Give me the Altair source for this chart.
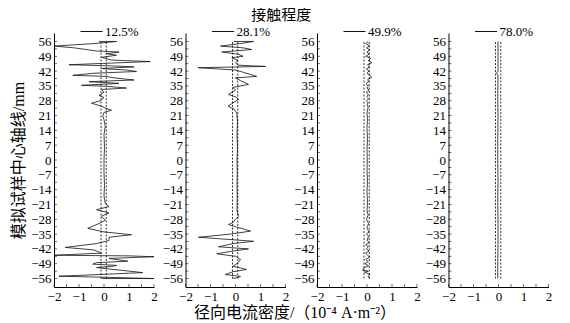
import altair as alt
import pandas as pd

panel_labels = ["12.5%", "28.1%", "49.9%", "78.0%"]

pos1 = [56.0, 56.0, 55.0, 53.8, 53.0, 51.5, 51.0, 50.2, 49.5, 48.5, 47.2, 46.5, 45.8, 45.0, 44.5, 44.0,
        43.2, 42.5, 41.8, 41.0, 40.0, 39.5, 38.8, 37.8, 37.0, 36.2, 35.3, 34.8, 34.0, 33.3, 32.0, 30.5,
        29.5, 28.0, 26.8, 25.5, 24.5, 23.5, 22.5, 21.0, 19.0, 16.0, 12.0, 6.0, 0.0, -6.0, -12.0, -17.0,
        -20.5, -22.0, -23.5, -25.0, -26.5, -28.5, -30.0, -31.0, -32.3, -34.0, -35.3, -36.5, -38.0, -39.5,
        -40.5, -41.3, -42.5, -44.0, -45.0, -45.3, -45.7, -46.5, -47.2, -47.8, -48.5, -49.2, -49.8, -50.3,
        -50.8, -51.5, -52.3, -53.2, -54.0, -54.9, -55.5, -56.0, -56.0]
den1 = [-0.2, 0.5, -0.4, -2.0, -1.2, -0.3, 0.6, 0.1, 0.5, -0.1, 0.3, 1.85, 0.3, -1.4, 0.2, 1.2,
        -0.1, 0.9, 1.3, -0.4, -1.25, 0.1, 0.4, 1.2, -0.6, 0.6, -0.9, 0.1, 0.9, -0.1, 0.0, -0.2,
        0.0, -0.15, -0.5, -0.1, 0.05, 0.3, 0.0, -0.05, 0.0, 0.05, 0.0, 0.02, 0.0, 0.0, 0.02, 0.0,
        0.05, 0.2, -0.3, 0.2, -0.1, 0.05, -0.2, -0.4, -0.65, 0.0, 1.1, 0.2, 0.2, -0.3,
        -1.0, -1.55, -0.4, -0.1, -2.0, 1.0, 2.0, 0.2, 0.6, 0.95, -0.3, -0.45, 0.5, 0.3,
        -0.3, 0.2, 0.85, 1.55, 0.0, -1.8, 0.4, 2.0, -0.1]

pos2 = [56.0, 56.0, 55.0, 53.8, 53.0, 52.2, 51.0, 50.0, 49.0, 48.3, 47.0, 46.0, 44.8, 44.2, 43.6, 42.5,
        41.5, 39.5, 38.8, 37.5, 35.7, 34.3, 33.0, 31.0, 29.5, 28.6, 27.0, 25.4, 24.0, 22.0, 18.0, 12.0,
        6.0, 0.0, -6.0, -12.0, -18.0, -24.0, -26.6, -28.0, -29.5, -30.5, -31.5, -33.6, -35.0, -36.5,
        -37.5, -38.4, -39.5, -41.0, -42.0, -43.0, -44.3, -45.5, -47.0, -48.5, -50.2, -51.0, -51.7,
        -52.8, -54.1, -55.0, -55.5, -56.0]
den2 = [-0.08, 0.72, 0.2, -0.6, 0.3, 0.65, -0.55, 0.1, 0.3, -0.15, 0.1, 0.0, 0.1, 1.2, -1.5, 0.0,
        0.3, 0.85, 0.0, 0.2, 0.52, -0.1, 0.0, -0.28, 0.05, 0.12, -0.1, -0.3, -0.05, 0.05, 0.08, 0.06,
        0.08, 0.06, 0.07, 0.06, 0.07, 0.06, 0.12, 0.0, -0.1, -0.28, 0.0, 0.6, -0.2, -1.48,
        -0.3, 0.72, -0.1, -0.68, 0.52, -0.1, -0.75, 0.0, 0.2, 0.1, -0.1, 0.2, 0.44,
        -0.1, -0.41, 0.2, 0.1, -0.1]

pos3 = [56, 55, 54, 53, 52, 51, 50, 49, 48, 47, 46, 45, 44, 43, 42, 41, 40, 39, 38, 37, 36, 35,
        34, 33, 32, 31, 30, 29, 28, 27, 26, 25, 24, 22, 20, 15, 10, 5, 0, -5, -10, -15, -20, -24,
        -26, -28, -30, -32, -34, -35, -36, -38, -39, -40, -41, -42, -43, -44, -45, -46, -47, -48,
        -49, -50, -51, -52, -52.5, -53, -54, -55, -56]
den3 = [0.05, -0.05, 0.1, -0.02, 0.12, 0.0, 0.08, -0.05, 0.15, 0.05, 0.2, 0.02, 0.1, -0.03, 0.08,
        0.0, 0.12, 0.18, 0.03, 0.06, -0.04, 0.05, 0.0, 0.08, -0.03, 0.05, 0.0, 0.06, -0.02, 0.04,
        0.0, 0.05, 0.02, 0.0, 0.02, 0.0, 0.02, 0.0, 0.01, 0.0, 0.02, 0.0, 0.02, 0.0,
        0.05, -0.02, 0.06, 0.0, 0.08, -0.03, 0.06, 0.0, 0.1, -0.05, 0.05, -0.02, 0.08, -0.06,
        0.03, 0.1, -0.05, 0.05, -0.08, 0.06, -0.12, -0.18, 0.05, -0.1, 0.12, 0.05, 0.1]

pos4 = [56, 50, 42, 41, 40, 30, 20, 10, 0, -10, -20, -30, -40, -50, -56]
den4 = [-0.02, -0.02, -0.02, -0.08, -0.02, -0.03, -0.02, -0.03, -0.03, -0.02, -0.03, -0.02,
        -0.02, -0.03, -0.03]

y_ticks = list(range(-56, 57, 7))
x_ticks = [-2, -1, 0, 1, 2]
minor_y = [i * 3.5 for i in range(-16, 17)]
minor_x = [-2, -1.5, -1, -0.5, 0, 0.5, 1, 1.5, 2]
bound_x = [-0.12, 0.09]
bound_y1 = [-56, -56]
bound_y2 = [56, 56]

SERIF = "Liberation Serif"
MIX = "Liberation Serif, Noto Sans CJK SC"
W, H = 100, 254
XTITLE = "径向电流密度/（10⁻⁴ A·m⁻²）"
YTITLE = "模拟试样中心轴线/mm"


def panel(i, pos, den, ytitle=False, xtitle=False):
    xs = alt.Scale(domain=[-2, 2], nice=False, zero=False)
    ys = alt.Scale(domain=[-60, 60], nice=False, zero=False)
    df = pd.DataFrame({"pos": pos, "den": den, "idx": list(range(len(pos))),
                       "label": [panel_labels[i]] * len(pos)})
    xaxis_kw = dict(values=x_ticks, ticks=False, labelFlush=False, grid=False,
                    labelFont=SERIF, labelFontSize=13, labelColor="black", labelPadding=3,
                    domainColor="black", domainWidth=1)
    if xtitle:
        xaxis = alt.Axis(title=XTITLE, titleFont=MIX, titleFontSize=16, titleFontWeight="normal",
                         titleColor="black", titleX=109, titlePadding=1, **xaxis_kw)
    else:
        xaxis = alt.Axis(title="", **xaxis_kw)
    yaxis_kw = dict(values=y_ticks, ticks=False, grid=False, labelFont=SERIF, labelFontSize=13,
                    labelColor="black", labelPadding=3, domainColor="black", domainWidth=1)
    if ytitle:
        yaxis = alt.Axis(title=YTITLE, titleFont=MIX, titleFontSize=16, titleFontWeight="normal",
                         titleColor="black", titlePadding=4, **yaxis_kw)
    else:
        yaxis = alt.Axis(title="", **yaxis_kw)

    line = alt.Chart(df).mark_line(strokeWidth=0.8).encode(
        x=alt.X("den:Q", scale=xs, axis=xaxis),
        y=alt.Y("pos:Q", scale=ys, axis=yaxis),
        order=alt.Order("idx:Q"),
        color=alt.Color("label:N", scale=alt.Scale(range=["#111111"]),
                        legend=alt.Legend(title=None, orient="none", legendX=26, legendY=-13,
                                          symbolType="stroke", symbolSize=484,
                                          symbolStrokeWidth=1, labelFont=SERIF,
                                          labelFontSize=13, labelColor="black",
                                          labelOffset=2, padding=0)),
    )
    bdf = pd.DataFrame({"b": bound_x, "y1": bound_y1, "y2": bound_y2})
    rules = alt.Chart(bdf).mark_rule(strokeDash=[2, 1.5], strokeWidth=0.8, color="black").encode(
        x=alt.X("b:Q", scale=xs, axis=xaxis),
        y=alt.Y("y1:Q", scale=ys, axis=yaxis),
        y2="y2:Q",
    )
    yt = alt.Chart(pd.DataFrame({"t": minor_y})).mark_tick(size=3, thickness=0.8, color="black").encode(
        y=alt.Y("t:Q", scale=ys, axis=yaxis), x=alt.value(1.5))
    xt = alt.Chart(pd.DataFrame({"t": minor_x})).mark_tick(size=3, thickness=0.8, color="black").encode(
        x=alt.X("t:Q", scale=xs, axis=xaxis), y=alt.value(H - 1.5))
    return alt.layer(rules, line, yt, xt).properties(width=W, height=H)


p1 = panel(0, pos1, den1, ytitle=True)
p2 = panel(1, pos2, den2, xtitle=True)
p3 = panel(2, pos3, den3)
p4 = panel(3, pos4, den4)

chart = alt.hconcat(p1, p2, p3, p4, spacing=31.5, bounds="flush").resolve_scale(
    color="independent").resolve_legend(color="independent").properties(
    title=alt.TitleParams("接触程度", font=MIX, fontSize=15, fontWeight="normal",
                          anchor="middle", color="black", offset=-3),
    padding={"left": 2, "top": 0, "right": 5, "bottom": 0},
).configure_view(stroke=None)

chart.save("out.html", embed_options={"renderer": "svg", "actions": False})
